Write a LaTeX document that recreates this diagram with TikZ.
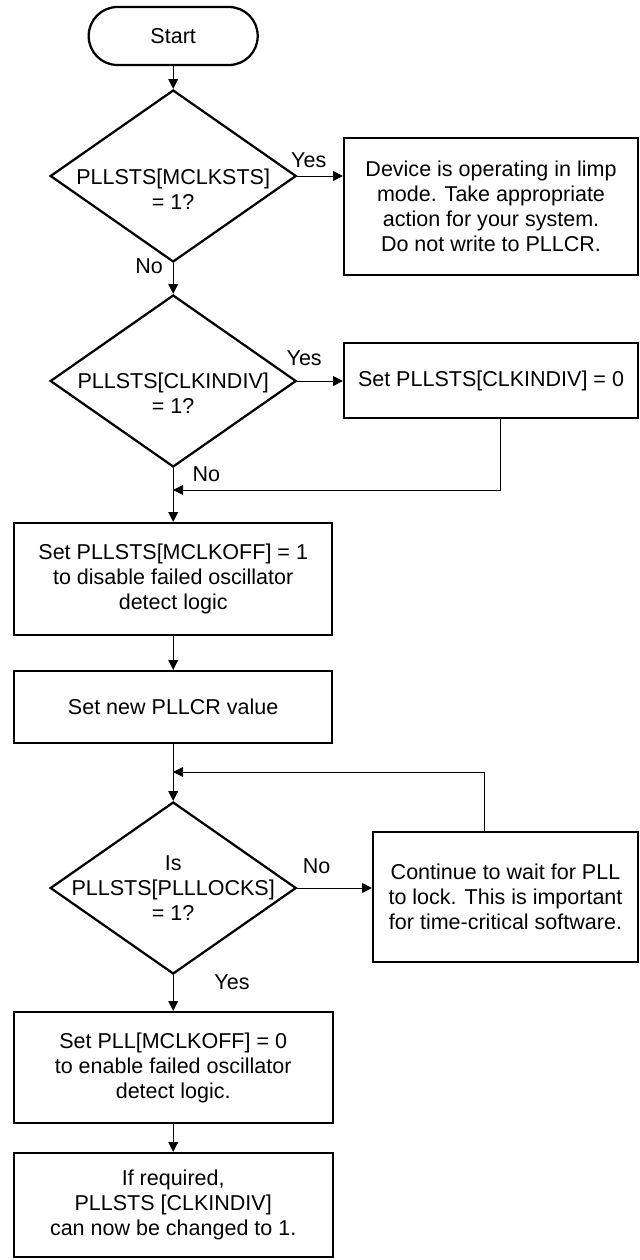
\documentclass[tikz,border=0pt]{standalone}
\usepackage{fontspec}
\setmainfont{Liberation Sans}
\usepackage{tikz}
\usetikzlibrary{shapes.geometric, arrows.meta, positioning, calc}
\usepackage{xcolor}
\definecolor{FlowBlack}{HTML}{000000}
\definecolor{FlowWhite}{HTML}{ffffff}
\tikzset{
    % Box styles - sharp corners, only the start is rounded
    terminal/.style={
        rectangle,
        rounded corners=0.72cm,
        draw=FlowBlack,
        fill=FlowWhite,
        line width=1.6pt,
        minimum width=4.225cm,
        minimum height=1.45cm,
        align=center
    },
    decision/.style={
        diamond,
        draw=FlowBlack,
        fill=FlowWhite,
        line width=1.6pt,
        minimum width=6.15cm,
        minimum height=4.3cm,
        inner sep=0pt
    },
    dtext/.style={
        align=center,
        inner sep=0pt
    },
    process/.style={
        rectangle,
        draw=FlowBlack,
        fill=FlowWhite,
        line width=1.6pt,
        minimum width=7.95cm,
        minimum height=2.8cm,
        align=center
    },
    note/.style={
        process,
        minimum width=7.35cm
    },
    lbl/.style={
        inner sep=1pt
    },
    % Arrow styles - straight lines only
    arrow/.style={
        -{Triangle[length=7pt,width=7pt]},
        line width=0.7pt,
        draw=FlowBlack
    },
    thinarrow/.style={
        arrow,
        line width=0.5pt
    }
}

\begin{document}
\begin{tikzpicture}[font=\fontsize{15.3}{17.8}\selectfont]
    \useasboundingbox (0,0) rectangle (16,-31.5);

    \node[terminal] (start) at (4.33,-0.9) {Start};

    \node[decision] (d1) at (4.33,-4.4) {};
    \node[dtext] (d1txt) at (4.33,-4.74) {PLLSTS[MCLKSTS]\\= 1?};
    \node[note, minimum height=3.425cm] (limp) at (12.275,-5.1625)
        {Device is operating in limp\\mode. Take appropriate\\action for your system.\\Do not write to PLLCR.};

    \node[decision] (d2) at (4.33,-9.525) {};
    \node[dtext] (d2txt) at (4.33,-9.84) {PLLSTS[CLKINDIV]\\= 1?};
    \node[note, minimum height=1.875cm] (clrdiv) at (12.275,-9.5125) {Set PLLSTS[CLKINDIV] = 0};
    \coordinate (j1) at (4.33,-12.25);

    \node[process] (mclkoff) at (4.33,-14.475) {Set PLLSTS[MCLKOFF] = 1\\to disable failed oscillator\\detect logic};
    \node[process, minimum height=1.8cm] (pllcr) at (4.33,-17.675) {Set new PLLCR value};
    \coordinate (j2) at (4.33,-19.3);

    \node[decision] (d3) at (4.33,-22.2) {};
    \node[dtext] (d3txt) at (4.33,-22.2) {Is\\PLLSTS[PLLLOCKS]\\= 1?};
    \node[process, minimum width=6.625cm, minimum height=3.25cm] (wait) at (12.6375,-22.425)
        {Continue to wait for PLL\\to lock. This is important\\for time-critical software.};

    \node[process, minimum width=7.975cm, minimum height=2.775cm] (mclkon) at (4.33,-26.6875)
        {Set PLL[MCLKOFF] = 0\\to enable failed oscillator\\detect logic.};
    \node[process, minimum width=7.975cm, minimum height=2.6cm] (done) at (4.33,-30.125)
        {If required,\\PLLSTS [CLKINDIV]\\can now be changed to 1.};

    \draw[arrow] (start) -- (d1);
    \draw[arrow] (d1.east) -- node[lbl, anchor=south, yshift=4.5pt, pos=0.25] (yes1) {Yes} (d1.east -| limp.west);
    \draw[arrow] (d1) -- node[lbl, left=6pt, pos=0.09] (no1) {No} (d2);
    \draw[arrow] (d2.east) -- node[lbl, anchor=south, yshift=9.5pt, pos=0.15] (yes2) {Yes} (d2.east -| clrdiv.west);
    \draw[thinarrow] ([xshift=0.225cm]clrdiv.south) |- (j1);
    \draw[arrow] (d2) -- node[lbl, right=12.5pt, pos=0.11] (no2) {No} (mclkoff);
    \draw[arrow] (mclkoff) -- (pllcr);
    \draw[arrow] (pllcr) -- (d3);
    \draw[thinarrow] ([xshift=-0.5375cm]wait.north) |- (j2);
    \draw[arrow] (d3.east) -- node[lbl, anchor=south, yshift=9pt, pos=0.26] (no3) {No} (d3.east -| wait.west);
    \draw[arrow] (d3) -- node[lbl, right=28pt, pos=0.21] (yes3) {Yes} (mclkon);
    \draw[arrow] (mclkon) -- (done);
\end{tikzpicture}
\end{document}
